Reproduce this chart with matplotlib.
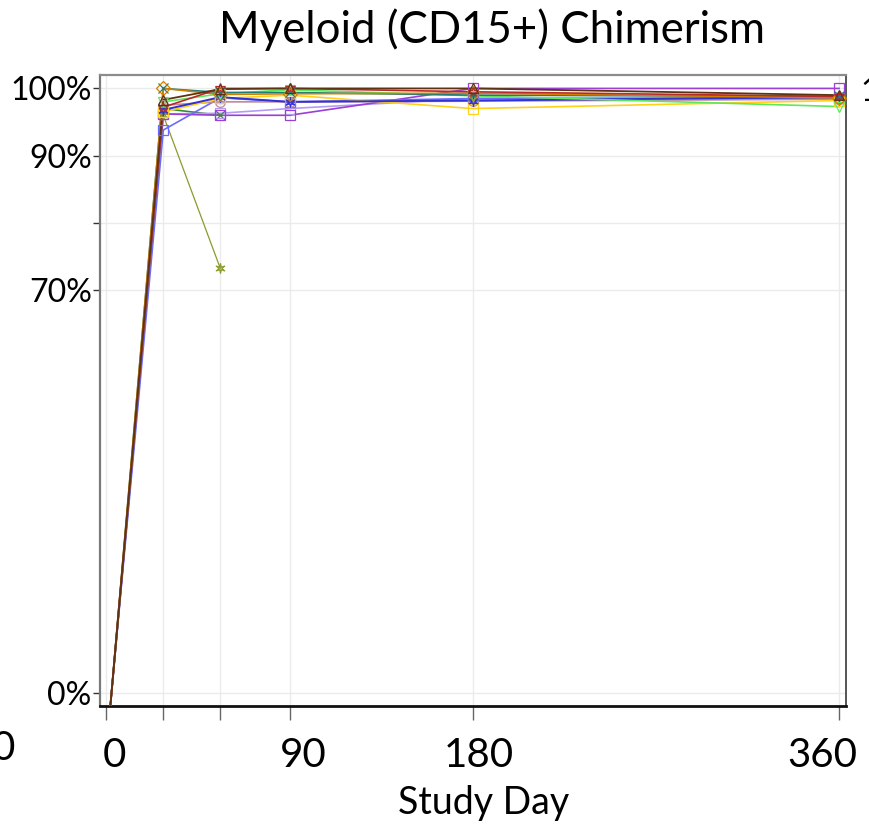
import numpy as np
import matplotlib
matplotlib.use("Agg")
import matplotlib.pyplot as plt
from matplotlib.transforms import ScaledTranslation

plt.rcParams['font.family'] = ['Lato', 'DejaVu Sans']

title = "Myeloid (CD15+) Chimerism"
xlabel = "Study Day"
days = [2, 28, 56, 90, 180, 360]
xticks = [0, 28, 56, 90, 180, 360]
xticklabels = ["0", "", "", "90", "180", "360"]
yticks = [0, 70, 80, 90, 100]
yticklabels = ["0%", "70%", "", "90%", "100%"]

start = -2.3
brown = [start, 98.3, 99.9, 100.0, 100.0, 99.0]
orange = [start, 100.0, 99.1, 99.2, 99.3, 98.6]
teal = [start, 100.0, 99.4, 99.4, 99.0, 98.8]
green = [start, 98.0, 99.2, 99.8, 98.9, 97.3]
red = [start, 97.2, 100.0, 100.0, 99.5, 98.8]
blue = [start, 96.8, 98.7, 98.0, 98.2, 98.7]
lightblue = [start, 93.8, 98.6, 98.0, 98.5, 98.6]
pink = [start, 97.5, 98.0, 98.0, 98.1, 98.4]
darkgreen = [start, 97.0, 96.0, None, None, None]
lavender = [start, 96.2, 96.3, 97.0, 98.5, 98.5]
purple = [start, 96.2, 96.0, 96.0, 100.0, 100.0]
yellow = [start, 96.5, 98.5, 99.0, 97.0, 98.2]
olive = [start, 96.0, 73.2, None, None, None]

series = [
    (olive, "#8c9a2c", "$\u2736$", 0.9),
    (darkgreen, "#3a8a3a", "x", 1.2),
    (lavender, "#b49cf5", "s", 1.2),
    (purple, "#9b3fd6", "s", 1.2),
    (lightblue, "#6a6aff", "s", 1.2),
    (pink, "#c08a98", "o", 1.2),
    (yellow, "#ffd21a", "s", 1.2),
    (blue, "#3232d2", "$\u2736$", 1.4),
    (green, "#5ee85e", "v", 1.2),
    (teal, "#1f7a7a", "x", 1.2),
    (orange, "#d08000", "D", 1.2),
    (red, "#b82a2a", "*", 1.2),
    (brown, "#5e3312", "^", 1.3),
]

def fwd(y):
    y = np.asarray(y, dtype=float)
    return np.where(y >= 70, y, 70 - (70 - y) * 0.857)

def inv(z):
    z = np.asarray(z, dtype=float)
    return np.where(z >= 70, z, 70 - (70 - z) / 0.857)

fig = plt.figure(figsize=(8.7, 8.26), dpi=100)
ax = fig.add_axes([100/870, 1 - 706/826, 746/870, 631/826])
ax.set_yscale('function', functions=(fwd, inv))

for vals, col, mk, lw in series:
    x = [d for d, v in zip(days, vals) if v is not None]
    y = [v for v in vals if v is not None]
    ax.plot(x, y, color=col, lw=lw, zorder=3)
    ax.plot(x[1:], y[1:], ls='none', marker=mk, ms=7, mfc='none',
            mec=col, mew=0.9, color=col, zorder=4)

ax.set_xlim(-3.1, 363.4)
ax.set_ylim(-2.33, 102)
ax.set_xticks(xticks)
ax.set_xticklabels(xticklabels, fontsize=29)
ax.set_yticks(yticks)
ax.set_yticklabels(yticklabels, fontsize=23)
ax.tick_params(axis='x', length=10, width=1, color='#666666', pad=12)
ax.tick_params(axis='y', length=5, width=1, color='#333333', pad=1)
ax.grid(True, color='#ebebeb', lw=1, zorder=0)
ax.set_axisbelow(True)

# label offsets in pixels (reference labels are not exactly centred on ticks)
offsets = {"0": 8, "90": 14, "180": 6, "360": -17}
for lab in ax.get_xticklabels():
    dx = offsets.get(lab.get_text(), 0)
    lab.set_transform(lab.get_transform() + ScaledTranslation(dx / 100, 0, fig.dpi_scale_trans))

ax.spines['top'].set_color('#8c8c8c')
ax.spines['top'].set_linewidth(1.6)
ax.spines['right'].set_color('#555555')
ax.spines['right'].set_linewidth(1.4)
ax.spines['left'].set_color('#7a7a7a')
ax.spines['left'].set_linewidth(1.6)
ax.spines['bottom'].set_color('#111111')
ax.spines['bottom'].set_linewidth(2)

fig.text(492/870, 1 - 30/826, title, ha='center', va='center', fontsize=31.5)
fig.text(484/870, 1 - 803/826, xlabel, ha='center', va='center', fontsize=27)

fig.text(15/870, 1 - 748/826, "0", ha='right', va='center', fontsize=29)
fig.text(860/870, 1 - 92/826, "100%", ha='left', va='center', fontsize=23)

fig.savefig("out.png", dpi=100)
